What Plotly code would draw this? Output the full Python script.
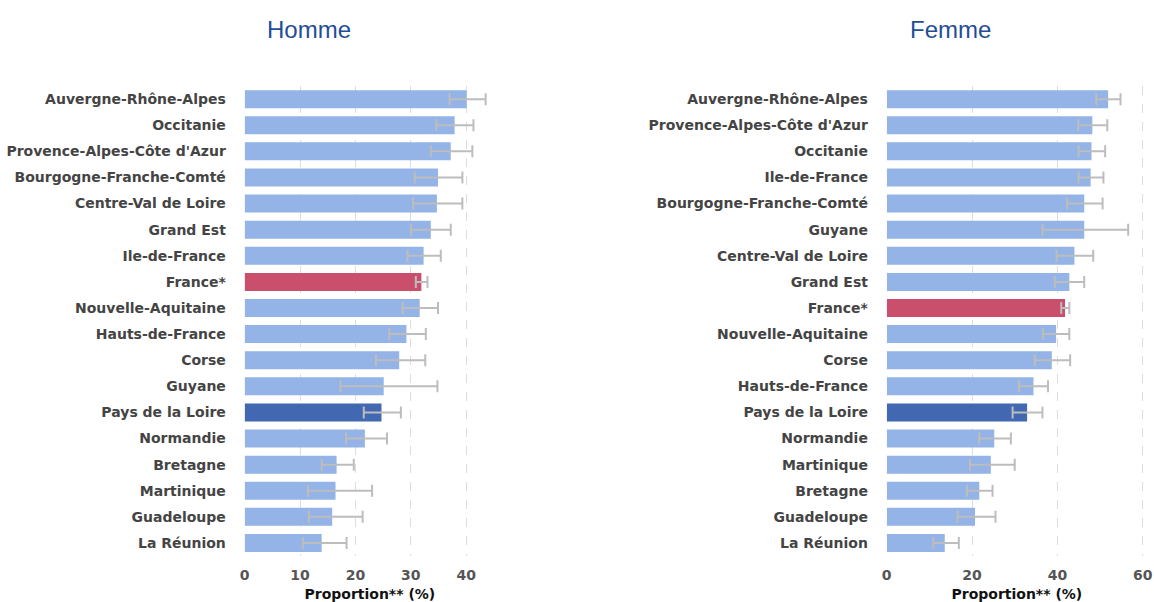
import plotly.graph_objects as go
from plotly.subplots import make_subplots

# Homme
regions_h = ["Auvergne-Rhône-Alpes", "Occitanie", "Provence-Alpes-Côte d'Azur",
             "Bourgogne-Franche-Comté", "Centre-Val de Loire", "Grand Est",
             "Ile-de-France", "France*", "Nouvelle-Aquitaine", "Hauts-de-France",
             "Corse", "Guyane", "Pays de la Loire", "Normandie", "Bretagne",
             "Martinique", "Guadeloupe", "La Réunion"]
val_h = [40.1, 37.9, 37.2, 34.9, 34.7, 33.6, 32.3, 31.9, 31.6, 29.2,
         27.9, 25.1, 24.7, 21.7, 16.6, 16.4, 15.8, 13.9]
low_h = [37.0, 34.6, 33.6, 30.7, 30.4, 30.0, 29.4, 30.9, 28.5, 26.1,
         23.7, 17.3, 21.5, 18.3, 13.9, 11.4, 11.6, 10.5]
high_h = [43.5, 41.3, 41.1, 39.3, 39.3, 37.2, 35.4, 33.0, 34.9, 32.7,
          32.6, 34.8, 28.2, 25.7, 19.7, 23.0, 21.3, 18.4]

# Femme
regions_f = ["Auvergne-Rhône-Alpes", "Provence-Alpes-Côte d'Azur", "Occitanie",
             "Ile-de-France", "Bourgogne-Franche-Comté", "Guyane",
             "Centre-Val de Loire", "Grand Est", "France*", "Nouvelle-Aquitaine",
             "Corse", "Hauts-de-France", "Pays de la Loire", "Normandie",
             "Martinique", "Bretagne", "Guadeloupe", "La Réunion"]
val_f = [51.9, 48.2, 48.0, 47.8, 46.3, 46.3, 44.0, 42.8, 41.8, 39.7,
         38.7, 34.4, 32.9, 25.2, 24.4, 21.7, 20.7, 13.6]
low_f = [49.1, 44.9, 45.0, 45.0, 42.3, 36.5, 39.8, 39.4, 40.9, 36.6,
         34.7, 31.0, 29.5, 21.7, 19.5, 18.8, 16.6, 10.9]
high_f = [54.8, 51.7, 51.2, 50.8, 50.6, 56.6, 48.4, 46.3, 42.8, 42.8,
          43.0, 37.8, 36.5, 29.1, 30.0, 24.8, 25.5, 16.9]

BASE = '#94B3E6'
FRANCE = '#C94F6D'
PDL = '#4168B1'
LABEL_FONT = dict(family='DejaVu Sans', size=14, color='#444444', weight='bold')
TITLE_FONT = dict(family='Liberation Sans', size=24, color='#1F4E96')


def colours(regs):
    out = []
    for r in regs:
        if r == 'France*':
            out.append(FRANCE)
        elif r == 'Pays de la Loire':
            out.append(PDL)
        else:
            out.append(BASE)
    return out


fig = make_subplots(rows=1, cols=2)

for col, regs, v, lo, hi in [(1, regions_h, val_h, low_h, high_h),
                             (2, regions_f, val_f, low_f, high_f)]:
    fig.add_trace(go.Bar(
        x=v, y=regs, orientation='h',
        marker=dict(color=colours(regs), line=dict(width=0)),
        error_x=dict(type='data', symmetric=False,
                     array=[h - a for h, a in zip(hi, v)],
                     arrayminus=[a - l for a, l in zip(v, lo)],
                     color='#BDBDBD', thickness=2, width=6),
        showlegend=False,
    ), row=1, col=col)

axis_common = dict(showgrid=True, gridcolor='#DDDDDD', griddash='dash', gridwidth=1,
                   zeroline=False, showline=False, automargin=False,
                   ticklabeloverflow='allow',
                   ticks='outside', ticklen=6, tickcolor='rgba(0,0,0,0)',
                   tickfont=dict(family='DejaVu Sans', size=14, color='#555555', weight='bold'),
                   title=dict(text='Proportion** (%)', standoff=8,
                              font=dict(family='DejaVu Sans', size=14, color='#111111',
                                        weight='bold')))

fig.update_xaxes(axis_common)
fig.update_xaxes(range=[0, 45.2], dtick=10, domain=[0.2120, 0.4290], row=1, col=1)
fig.update_xaxes(range=[0, 61], dtick=20, domain=[0.7684, 0.9939], row=1, col=2)

fig.update_yaxes(autorange='reversed', showgrid=False, zeroline=False, showline=False,
                 automargin=False,
                 ticks='outside', ticklen=15, tickcolor='rgba(0,0,0,0)',
                 tickfont=LABEL_FONT, domain=[0.0764, 0.857])

fig.update_layout(
    width=1154, height=602,
    margin=dict(l=0, r=0, t=0, b=0),
    bargap=0.31,
    plot_bgcolor='white', paper_bgcolor='white',
    font=dict(family='DejaVu Sans'),
    annotations=[
        dict(text='Homme', x=309 / 1154, y=1 - 29 / 602, xref='paper', yref='paper',
             xanchor='center', yanchor='middle', showarrow=False, font=TITLE_FONT),
        dict(text='Femme', x=950 / 1154, y=1 - 29 / 602, xref='paper', yref='paper',
             xanchor='center', yanchor='middle', showarrow=False, font=TITLE_FONT),
    ],
)

# page body has a default 8px margin; drop it so the figure fills the window
fig.write_html("out.html", config={'displayModeBar': False},
               post_script="document.body.style.margin='0';")
